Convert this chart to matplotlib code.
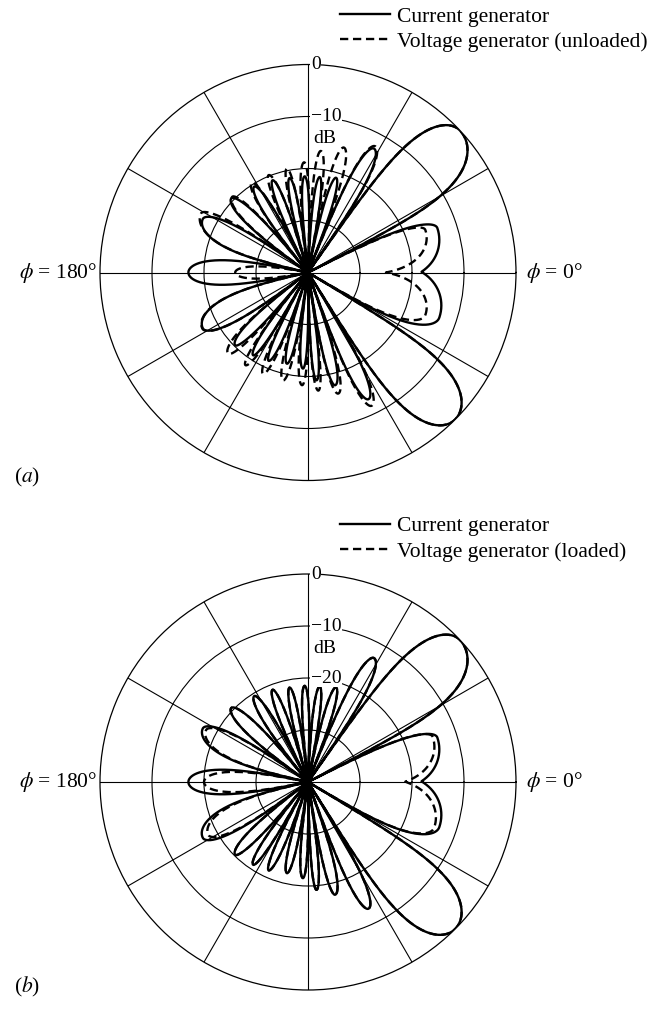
import numpy as np
import matplotlib
matplotlib.use("Agg")
import matplotlib.pyplot as plt

plt.rcParams['font.family'] = ['Liberation Serif', 'DejaVu Serif']
plt.rcParams['mathtext.fontset'] = 'stix'

# lobes: left null, peak angle, right null (deg, ccw from phi=0), peak level (dB)
cur_start = [-31, -12.5, 27, 55, 68, 78.5, 87.5, 96.5, 106, 116.5, 129, 144.5, 168,
             192, 217, 230.5, 241, 251.5, 262, 271, 279, 290, 302]
cur_peak = [-19, 19, 43, 62, 73.5, 83, 92, 101, 111, 122, 136, 153, 180,
            208, 225, 236.5, 246, 257, 267, 274.5, 283.5, 295.5, 315]
cur_end = [12.5, 27, 55, 68, 78.5, 87.5, 96.5, 106, 116.5, 129, 144.5, 168, 192,
           217, 230.5, 241, 251.5, 262, 271, 279, 290, 302, 329]
cur_db = [-13.3, -13.7, 0, -13, -21, -21.5, -21.5, -21.5, -21, -20.5, -19.5, -17.3, -17,
          -17.1, -20.2, -20.9, -21.4, -22, -21.5, -19.2, -17.7, -13, 0]

# voltage generator, unloaded (a)
unl_start = [-31, -6, 27, 55, 68, 79, 88, 97, 106, 117, 129, 144.5, 168,
             192, 217, 231, 241, 251.5, 262, 271, 279, 290, 302]
unl_peak = [-20, 20, 43, 62, 74, 84, 92, 101.5, 112, 122, 135, 151, 180,
            208, 225.5, 236, 246, 257, 267, 275, 284, 295.5, 315]
unl_end = [6, 27, 55, 68, 79, 88, 97, 106, 117, 129, 144.5, 168, 192,
           217, 231, 241, 251.5, 262, 271, 279, 290, 302, 329]
unl_db = [-16, -16, 0, -12.5, -15, -16.5, -18.8, -19.6, -19.8, -19.6, -19.4, -16.5, -26,
          -17, -18.1, -18.5, -18.7, -18.7, -18.3, -17.2, -16, -11.6, 0]

# voltage generator, loaded (b)
lod_start = [-31, -8.4, 27, 55, 68, 78.5, 87.5, 96.5, 106, 116.5, 129, 144.5, 168,
             192, 217, 230.5, 241, 251.5, 262, 271, 279, 290, 302]
lod_peak = [-20, 20, 43, 62, 73.5, 83, 92, 101, 111, 122, 136, 153, 180,
            208, 225, 236.5, 246, 257, 267, 274.5, 283.5, 295.5, 315]
lod_end = [8.4, 27, 55, 68, 78.5, 87.5, 96.5, 106, 116.5, 129, 144.5, 168, 192,
           217, 230.5, 241, 251.5, 262, 271, 279, 290, 302, 329]
lod_db = [-14.2, -14.5, 0, -13, -21, -21.5, -21.5, -21.5, -21, -20.5, -19.5, -18, -20,
          -18.3, -20.2, -20.9, -21.4, -22, -21.5, -19.2, -17.7, -13, 0]

FLOOR = -40


def pattern(starts, peaks, ends, levels):
    th = np.arange(-40, 340, 0.1)
    r = np.zeros_like(th)
    for s, p, e, db in zip(starts, peaks, ends, levels):
        m = (th >= s) & (th <= e)
        x = th[m]
        t = np.where(x < p, 0.5 * (x - s) / (p - s), 0.5 + 0.5 * (x - p) / (e - p))
        rr = db - FLOOR + 20 * np.log10(np.clip(np.sin(np.pi * t), 1e-9, None))
        r[m] = np.maximum(r[m], np.clip(rr, 0, None))
    return np.radians(th), r


def setup(ax):
    ax.set_theta_zero_location('E')
    ax.set_ylim(0, -FLOOR)
    ax.set_rgrids([10, 20, 30], labels=['', '', ''])
    ax.set_thetagrids(np.arange(0, 360, 30), labels=[''] * 12)
    ax.grid(True, color='black', lw=0.8)
    ax.spines['polar'].set_linewidth(0.9)
    ax.tick_params(length=0)


def ring_label(ax, txt, r, dy=0):
    ax.annotate(txt, xy=(np.pi / 2, r), xytext=(2, dy), textcoords='offset points',
                ha='left', va='center', fontsize=14,
                bbox=dict(fc='white', ec='none', pad=0.5))


fig = plt.figure(figsize=(6.52, 10.16), dpi=100)
W, H = 652, 1016
R = 208
for cy, dashed, lab2, tag, extra in [(272.5, (unl_start, unl_peak, unl_end, unl_db),
                                      'Voltage generator (unloaded)', 'a', False),
                                     (782, (lod_start, lod_peak, lod_end, lod_db),
                                      'Voltage generator (loaded)', 'b', True)]:
    ax = fig.add_axes([(308 - R) / W, 1 - (cy + R) / H, 2 * R / W, 2 * R / H], projection='polar')
    setup(ax)
    th, r = pattern(cur_start, cur_peak, cur_end, cur_db)
    l1, = ax.plot(th, r, color='black', lw=1.7, label='Current generator')
    th2, r2 = pattern(*dashed)
    l2, = ax.plot(th2, r2, color='black', lw=1.7, dashes=(3.5, 2), label=lab2)

    ring_label(ax, '0', 40)
    ring_label(ax, '\u221210', 30)
    ax.annotate('dB', xy=(np.pi / 2, 30), xytext=(4, -16), textcoords='offset points',
                ha='left', va='center', fontsize=14)
    if extra:
        ring_label(ax, '\u221220', 20)

    fig.text(97 / W, 1 - cy / H, r'$\phi$ = 180°', ha='right', va='center', fontsize=15.5)
    fig.text(526 / W, 1 - cy / H, r'$\phi$ = 0°', ha='left', va='center', fontsize=15.5)
    fig.text(14 / W, 1 - (cy + 205) / H, r'($%s$)' % tag,
             ha='left', va='center', fontsize=15.5)

    ax.legend(handles=[l1, l2], loc='upper left',
              bbox_to_anchor=(340 / W, 1 - (cy - 266) / H), bbox_transform=fig.transFigure,
              frameon=False, fontsize=15.5, handlelength=2.3, handletextpad=0.35,
              labelspacing=0.25, borderpad=0, borderaxespad=0)

fig.savefig('out.png', dpi=100)
